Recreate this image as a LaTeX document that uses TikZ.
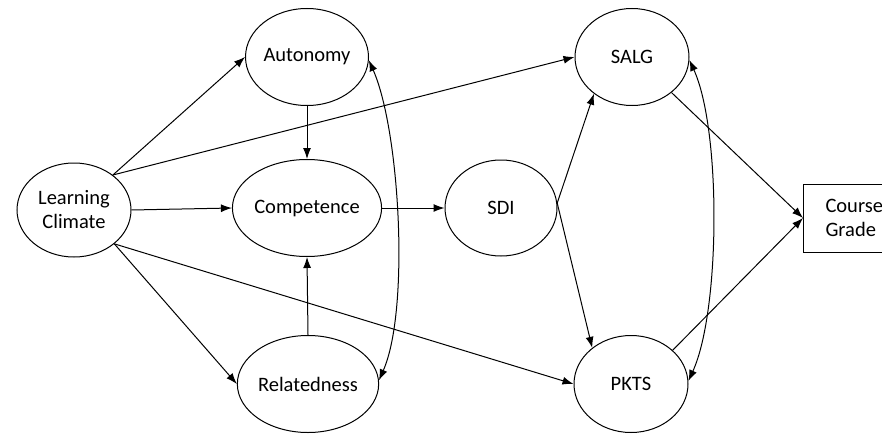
\documentclass[tikz,border=0pt]{standalone}
\usepackage{fontspec}
\setmainfont{Carlito}
\usetikzlibrary{shapes.geometric,arrows.meta}
\begin{document}
\begin{tikzpicture}[x=1pt,y=-1pt,
  every node/.style={font=\fontsize{20.5}{24}\selectfont},
  construct/.style={draw, ellipse, line width=1pt, minimum width=114pt, minimum height=97pt, inner sep=0pt, align=center},
  outcome/.style={draw, rectangle, line width=1pt, minimum height=68pt, inner xsep=22pt, align=left, anchor=west},
  path/.style={line width=1pt, -{Latex[length=11pt,width=8pt]}},
  cov/.style={line width=1pt, {Latex[length=11pt,width=8pt]}-{Latex[length=11pt,width=8pt]}}]
\useasboundingbox (0,0) rectangle (882,433);
\clip (0,0) rectangle (882,433);

% constructs
\node[construct, minimum height=94pt] (lc) at (74,210) {Learning\\Climate};
\node[construct] (aut) at (307,57) {Autonomy};
\node[construct] (comp) at (307,208) {Competence};
\node[construct] (rel) at (308,384) {Relatedness};
\node[construct, minimum width=112pt, minimum height=96pt] (sdi) at (501,208) {SDI};
\node[construct] (salg) at (632,57) {SALG};
\node[construct] (pkts) at (631,384) {PKTS};
\node[outcome] (cg) at (803,218) {Course\\Grade};

% paths from the learning climate
\draw[path] (lc.42) -- (aut.west);
\draw[path] (lc.42) -- (salg.west);
\draw[path] (lc.east) -- (comp.west);
\draw[path] (lc.-40) -- (rel.west);
\draw[path] (lc.-40) -- (pkts.west);

% need satisfaction
\draw[path] (aut.south) -- (comp.north);
\draw[path] (rel.north) -- (comp.south);
\draw[path] (comp.east) -- (sdi.west);

% motivation to outcomes
\draw[path] (sdi.5) -- (salg.-136);
\draw[path] (sdi.5) -- (pkts.137);
\draw[path] (salg.-42) -- (cg.west);
\draw[path] (pkts.39) -- (cg.west);

% covariances
\draw[cov] (aut.-3) .. controls +(31,70) and +(31,-70) .. (rel.3);
\draw[cov] (salg.-3) .. controls +(32,70) and +(32,-70) .. (pkts.3);
\end{tikzpicture}
\end{document}
